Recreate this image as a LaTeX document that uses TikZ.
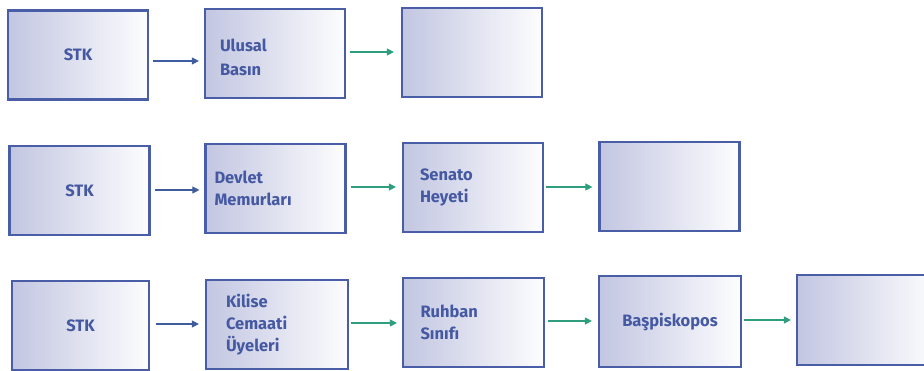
\documentclass[tikz,border=0pt]{standalone}
\usepackage{fontspec}
\setmainfont{Fira Sans}
\usetikzlibrary{arrows.meta}

\definecolor{edgeblue}{HTML}{4A5EA8}
\definecolor{fillblue}{HTML}{C2C6E1}
\definecolor{textblue}{HTML}{4558A2}
\definecolor{arrowblue}{HTML}{3F5C9E}
\definecolor{arrowgreen}{HTML}{2F9E7E}

\tikzset{
  box/.style={rectangle, draw=edgeblue, line width=2.2pt,
    left color=fillblue, right color=white!97!fillblue,
    minimum width=140pt, minimum height=89pt, inner sep=0pt,
    font=\bfseries\fontsize{16.5}{22}\selectfont, text=textblue},
  lbox/.style={box, align=left, text width=112pt},
  cbox/.style={box, align=center},
  arrb/.style={draw=arrowblue, line width=1.1pt,
    -{Triangle[length=7pt,width=7pt]}},
  arrg/.style={draw=arrowgreen, line width=1.1pt,
    -{Triangle[length=7pt,width=7pt]}},
}

\begin{document}
\begin{tikzpicture}[x=1pt, y=-1pt]
  \clip (0,0) rectangle (924,371);
  \fill[white] (0,0) rectangle (924,371);

  % first chain
  \node[cbox] (s1) at (78,55) {STK};
  \node[lbox] (u1) at (275,53.5)
    {\rule{0pt}{20pt}\hspace*{1pt}Ulusal\\[1.5pt]\hspace*{1pt}Basın};
  \node[box]  (e1) at (472,52.5) {};
  \draw[arrb] ([shift={(4,6)}]s1.east) -- ([shift={(-5,7.5)}]u1.west);
  \draw[arrg] ([shift={(4,-1.5)}]u1.east) -- ([shift={(-7,-0.5)}]e1.west);

  % second chain
  \node[cbox] (s2) at (79.5,190.5) {STK};
  \node[lbox] (d2) at (275.5,188.5) {\hspace*{-5pt}Devlet\\\hspace*{-5pt}Memurları};
  \node[lbox] (h2) at (473,187.5) {\hspace*{3pt}Senato\\\hspace*{3pt}Heyeti};
  \node[box]  (e2) at (669.5,186.5) {};
  \draw[arrb] ([shift={(4,-0.5)}]s2.east) -- ([shift={(-5,1.5)}]d2.west);
  \draw[arrg] ([shift={(4,-1.5)}]d2.east) -- ([shift={(-6,-0.5)}]h2.west);
  \draw[arrg] ([shift={(2,-0.5)}]h2.east) -- ([shift={(-6,0.5)}]e2.west);

  % third chain
  \node[cbox, minimum width=137pt] (s3) at (80.5,325.5) {STK};
  \node[lbox, minimum width=142pt] (k3) at (277,324.5)
    {\hspace*{5pt}Kilise\\\hspace*{5pt}Cemaati\\\hspace*{5pt}Üyeleri};
  \node[lbox, minimum width=141pt] (r3) at (473.5,322.5)
    {\hspace*{3pt}Ruhban\\\hspace*{3pt}Sınıfı};
  \node[cbox, minimum width=142pt, minimum height=91pt] (b3) at (670,321.5)
    {Başpiskopos};
  \node[box, minimum height=90pt] (e3) at (867,320) {};
  \draw[arrb] ([shift={(6,-1.5)}]s3.east) -- ([shift={(-6,-0.5)}]k3.west);
  \draw[arrg] ([shift={(2,-1.5)}]k3.east) -- ([shift={(-5,0.5)}]r3.west);
  \draw[arrg] ([shift={(3,-1.5)}]r3.east) -- ([shift={(-6,-0.5)}]b3.west);
  \draw[arrg] ([shift={(2,-1.5)}]b3.east) -- ([shift={(-5,0)}]e3.west);
\end{tikzpicture}
\end{document}
